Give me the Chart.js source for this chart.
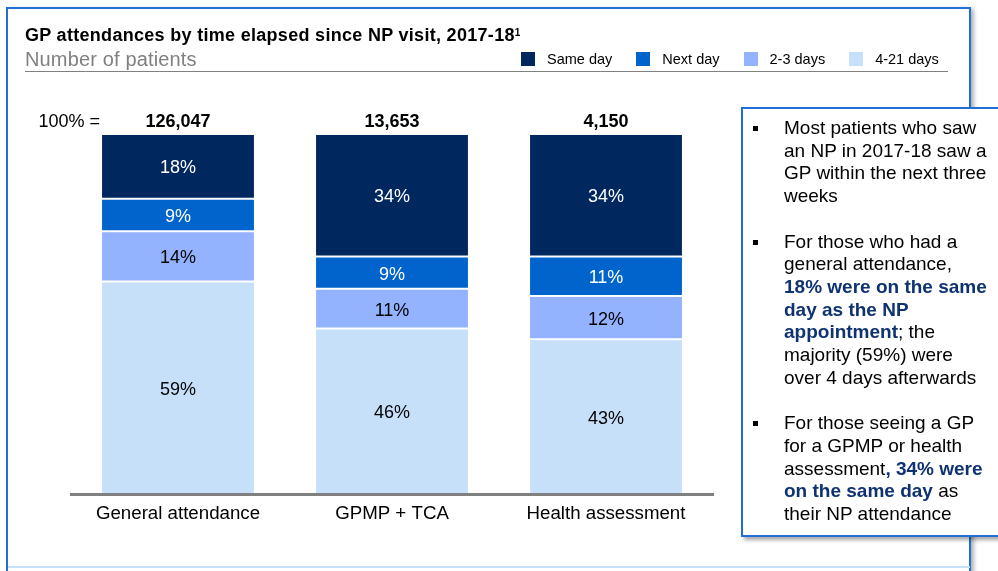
<!DOCTYPE html>
<html>
<head>
<meta charset="utf-8">
<script src="https://cdn.jsdelivr.net/npm/chart.js@4.4.0/dist/chart.umd.min.js"></script>
<style>
  html, body { margin: 0; padding: 0; }
  body {
    width: 998px; height: 571px; overflow: hidden; position: relative;
    background: #fff; font-family: Arial, "Liberation Sans", sans-serif; color: #000;
  }
  #frame {
    position: absolute; left: 6px; top: 7px; width: 961px; height: 580px;
    border: 2px solid #1f6fd4; border-bottom: none;
    box-shadow: 3px 2px 4px rgba(0, 0, 0, 0.3);
  }
  #bottomLine { position: absolute; left: 8px; top: 566px; width: 962px; height: 2px; background: #c6e1f9; }
  #chartWrap { position: absolute; left: 0; top: 0; width: 998px; height: 571px; }
  #title {
    position: absolute; left: 25px; top: 25px; font-size: 18px; line-height: 20px; font-weight: bold;
    letter-spacing: 0.3px; white-space: nowrap;
  }
  #title sup { font-size: 10px; vertical-align: top; position: relative; top: -2px; letter-spacing: 0; }
  #subtitle {
    position: absolute; left: 25px; top: 48px; font-size: 20px; line-height: 22px; color: #808080;
    letter-spacing: 0.15px; white-space: nowrap;
  }
  #rule { position: absolute; left: 25px; top: 71px; width: 923px; height: 1px; background: #808080; }
  #legend { position: absolute; left: 521px; top: 50px; display: flex; align-items: center; font-size: 14.5px; line-height: 18px; white-space: nowrap; }
  #legend .item { display: flex; align-items: center; margin-right: 24px; }
  #legend .item:last-child { margin-right: 0; }
  #legend .swatch { width: 14px; height: 14px; margin-right: 12px; }
  #notes {
    position: absolute; left: 741px; top: 107px; width: 290px; height: 430px; box-sizing: border-box;
    border: 2px solid #1f6fd4; background: #fff; box-shadow: 3px 3px 4px rgba(0, 0, 0, 0.35);
    padding: 8px 0 0 41px; font-size: 19px; line-height: 22.7px; white-space: nowrap;
  }
  #notes .pt { position: relative; margin-bottom: 22.7px; }
  #notes .pt::before {
    content: ""; position: absolute; left: -31px; top: 9px; width: 5px; height: 5px; background: #000;
  }
  #notes b { color: #0f3372; }
</style>
</head>
<body>
<div id="frame"></div>
<div id="bottomLine"></div>
<div id="chartWrap"><canvas id="chart" width="998" height="571"></canvas></div>
<div id="title">GP attendances by time elapsed since NP visit, 2017-18<sup>1</sup></div>
<div id="subtitle">Number of patients</div>
<div id="rule"></div>
<div id="legend"></div>
<div id="notes">
  <div class="pt">Most patients who saw<br>an NP in 2017-18 saw a<br>GP within the next three<br>weeks</div>
  <div class="pt">For those who had a<br>general attendance,<br><b>18% were on the same<br>day as the NP<br>appointment</b>; the<br>majority (59%) were<br>over 4 days afterwards</div>
  <div class="pt">For those seeing a GP<br>for a GPMP or health<br>assessment<b>, 34% were<br>on the same day</b> as<br>their NP attendance</div>
</div>
<script>
  // chart data
  const categories = ['General attendance', 'GPMP + TCA', 'Health assessment'];
  const totals = ['126,047', '13,653', '4,150'];
  const seriesNames = ['Same day', 'Next day', '2-3 days', '4-21 days'];
  const sameDay = [18, 34, 34];
  const nextDay = [9, 9, 11];
  const twoToThreeDays = [14, 11, 12];
  const fourToTwentyOneDays = [59, 46, 43];

  const colors = ['#00285f', '#0064cc', '#93b2ff', '#c6e0fa'];
  const labelColors = ['#fff', '#fff', '#000', '#000'];
  const seriesValues = [sameDay, nextDay, twoToThreeDays, fourToTwentyOneDays];
  const FONT = 'Arial, "Liberation Sans", sans-serif';

  // legend (same order as the picture: Same day first)
  const legendEl = document.getElementById('legend');
  seriesNames.forEach(function (name, i) {
    const item = document.createElement('div');
    item.className = 'item';
    item.innerHTML = '<span class="swatch" style="background:' + colors[i] + '"></span>' + name;
    legendEl.appendChild(item);
  });

  // stacks are drawn bottom-up, so reverse the series
  const datasets = [];
  for (let i = seriesNames.length - 1; i >= 0; i--) {
    datasets.push({
      label: seriesNames[i],
      data: seriesValues[i],
      backgroundColor: colors[i],
      borderColor: '#fff',
      borderWidth: { top: 1, bottom: 1, left: 0, right: 0 },
      borderSkipped: false,
      labelColor: labelColors[i],
      categoryPercentage: 1,
      barPercentage: 0.71
    });
  }

  const barLabels = {
    id: 'barLabels',
    afterDatasetsDraw(chart) {
      const ctx = chart.ctx;
      ctx.save();
      ctx.textAlign = 'center';
      ctx.textBaseline = 'middle';
      ctx.font = '18px ' + FONT;
      chart.data.datasets.forEach(function (ds, i) {
        chart.getDatasetMeta(i).data.forEach(function (bar, j) {
          ctx.fillStyle = ds.labelColor;
          ctx.fillText(ds.data[j] + '%', bar.x, (bar.y + bar.base) / 2 + 2);
        });
      });
      // totals above each bar
      const top = chart.chartArea.top;
      const first = chart.getDatasetMeta(0).data;
      ctx.fillStyle = '#000';
      ctx.font = 'bold 18px ' + FONT;
      first.forEach(function (bar, j) {
        ctx.fillText(totals[j], bar.x, top - 12);
      });
      ctx.font = '18px ' + FONT;
      ctx.textAlign = 'right';
      ctx.fillText('100% =', first[0].x - first[0].width / 2 - 2, top - 12);
      ctx.restore();
    }
  };

  new Chart(document.getElementById('chart'), {
    type: 'bar',
    data: { labels: categories, datasets: datasets },
    options: {
      responsive: false,
      animation: false,
      devicePixelRatio: 1,
      layout: { padding: { left: 71, right: 285, top: 134, bottom: 37 } },
      plugins: { legend: { display: false }, tooltip: { enabled: false } },
      scales: {
        x: {
          stacked: true,
          grid: { display: false, drawTicks: false },
          border: { display: true, color: '#808080', width: 3, z: 1 },
          ticks: { color: '#000', font: { size: 18.7, family: FONT }, padding: 9, maxRotation: 0 },
          afterFit: function (scale) { scale.height = 40; }
        },
        y: { stacked: true, display: false, min: 0, max: 100 }
      }
    },
    plugins: [barLabels]
  });
</script>
</body>
</html>
